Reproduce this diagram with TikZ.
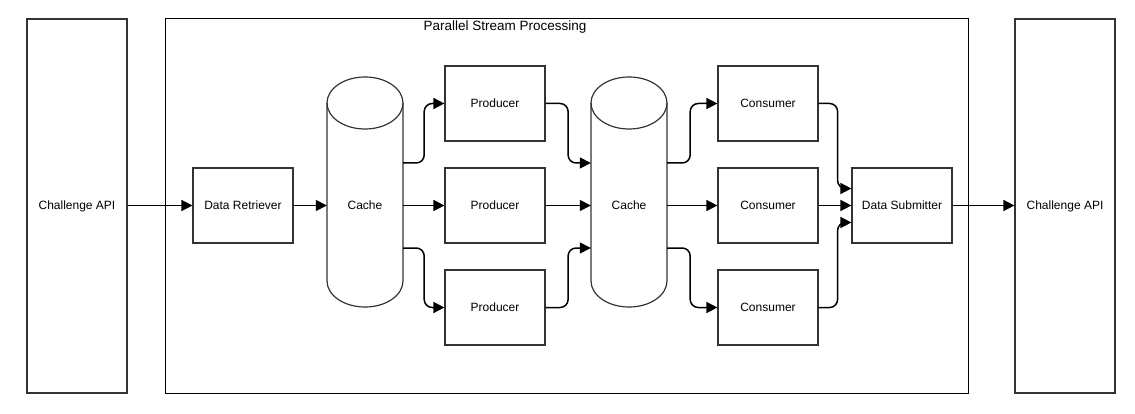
\documentclass[tikz,border=0pt]{standalone}
\usepackage{fontspec}
\setmainfont{Liberation Sans}
\usetikzlibrary{arrows.meta}
\tikzset{
  box/.style={draw=black!80, line width=1.2pt, minimum width=100pt, minimum height=75pt, inner sep=0pt, font=\fontsize{12}{14}\selectfont},
  tall/.style={box, minimum height=374pt},
  cylnode/.style={minimum width=76pt, minimum height=10pt, inner sep=0pt, font=\fontsize{12}{14}\selectfont},
  cylsty/.style={draw=black!80, line width=1.2pt},
  conn/.style={draw=black, line width=1.5pt, rounded corners=8pt, -{Triangle[length=11pt,width=11pt]}},
}
\newcommand\drawcyl[1]{%
  \draw[cylsty] ([shift={(-38pt,102.5pt)}]#1.center) -- ([shift={(-38pt,-75.5pt)}]#1.center)
    arc[start angle=180,end angle=360,x radius=38pt,y radius=26pt]
    -- ([shift={(38pt,102.5pt)}]#1.center);
  \draw[cylsty] ([shift={(0pt,102.5pt)}]#1.center) ellipse[x radius=38pt,y radius=26pt];}
\begin{document}
\begin{tikzpicture}[x=1pt,y=1pt]
\useasboundingbox (0,0) rectangle (1135,413);
% container
\draw[black, line width=1pt] (165,20) rectangle (968,394);
\node[font=\fontsize{13.5}{15}\selectfont] (title) at (505,386) {Parallel Stream Processing};
% side boxes
\node[tall] (cal) at (77,207) {Challenge API};
\node[tall] (car) at (1065,207) {Challenge API};
% main row
\node[box] (dr) at (243,207.5) {Data Retriever};
\node[cylnode] (c1) at (365,207.5) {Cache};
\drawcyl{c1}
\node[box] (p1) at (495,309.5) {Producer};
\node[box] (p2) at (495,207.5) {Producer};
\node[box] (p3) at (495,105.5) {Producer};
\node[cylnode] (c2) at (629,207.5) {Cache};
\drawcyl{c2}
\node[box] (k1) at (768,309.5) {Consumer};
\node[box] (k2) at (768,207.5) {Consumer};
\node[box] (k3) at (768,105.5) {Consumer};
\node[box] (ds) at (902,207.5) {Data Submitter};
% connectors
\draw[conn] (cal.east |- dr.west) -- (dr.west);
\draw[conn] (dr.east) -- (dr.east -| c1.west);
\draw[conn] ([yshift=42.5pt]c1.east) -- ++(21pt,0) |- (p1.west);
\draw[conn] (c1.east) -- (p2.west);
\draw[conn] ([yshift=-42.5pt]c1.east) -- ++(21pt,0) |- (p3.west);
\draw[conn] (p1.east) -- ++(22.5pt,0) |- ([yshift=42.5pt]c2.west);
\draw[conn] (p2.east) -- (c2.west);
\draw[conn] (p3.east) -- ++(22.5pt,0) |- ([yshift=-42.5pt]c2.west);
\draw[conn] ([yshift=42.5pt]c2.east) -- ++(23pt,0) |- (k1.west);
\draw[conn] (c2.east) -- (k2.west);
\draw[conn] ([yshift=-42.5pt]c2.east) -- ++(23pt,0) |- (k3.west);
\draw[conn] (k1.east) -- ++(19pt,0) |- ([yshift=17pt]ds.west);
\draw[conn] (k2.east) -- (ds.west);
\draw[conn] (k3.east) -- ++(19pt,0) |- ([yshift=-17pt]ds.west);
\draw[conn] (ds.east) -- (ds.east -| car.west);
\end{tikzpicture}
\end{document}
